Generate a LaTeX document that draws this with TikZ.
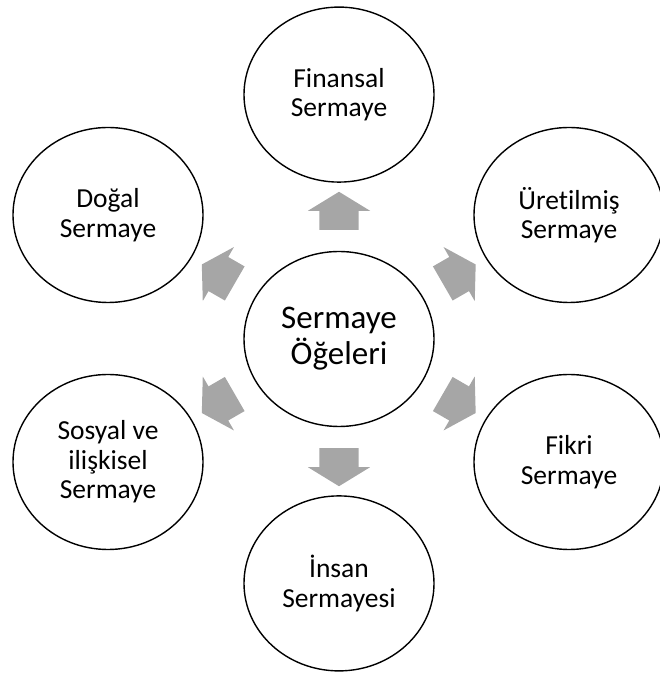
\documentclass[tikz,border=0pt]{standalone}
\usepackage{fontspec}
\setmainfont{Carlito}[Ligatures=NoCommon]
\usepackage{tikz}
\usetikzlibrary{positioning, shapes.arrows, shapes.geometric, calc}
\definecolor{arrowgray}{RGB}{166,166,166}
\tikzstyle{capital}=[ellipse, minimum width=190pt, minimum height=175pt, inner sep=0pt, draw=black, line width=1.4pt, align=center, font=\fontsize{27.5}{29.5}\selectfont]
\tikzstyle{core}=[capital, font=\fontsize{33}{36}\selectfont]
\tikzstyle{push}=[single arrow, fill=arrowgray, draw=none, inner xsep=0pt, inner ysep=19.5pt, minimum width=62pt, minimum height=38pt, single arrow head extend=11.5pt, single arrow tip angle=117]

\begin{document}
\begin{tikzpicture}[x=1pt, y=1pt]
            \useasboundingbox (0,0) rectangle (659,674);
            %Capital elements around the central node
            \node[core](main) at (339,335){Sermaye\\Öğeleri};
            \node[capital, above = 68pt of main](fin){Finansal\\Sermaye};
            \node[capital, below = 68pt of main](ins){İnsan\\Sermayesi};
            \node[capital](ure) at (569,459){Üretilmiş\\Sermaye};
            \node[capital](fik) at (569,212){Fikri\\Sermaye};
            \node[capital](dog) at (108,459){Doğal\\Sermaye};
            \node[capital](sos) at (108,212){Sosyal ve\\ilişkisel\\Sermaye};
            \foreach \n/\a in {fin/90, ure/30, fik/-30, ins/-90, sos/-150, dog/150}{
                \node[push, rotate=\a](p\n) at ($(main)!0.5!(\n)$){};
            }
        \end{tikzpicture}
\end{document}
